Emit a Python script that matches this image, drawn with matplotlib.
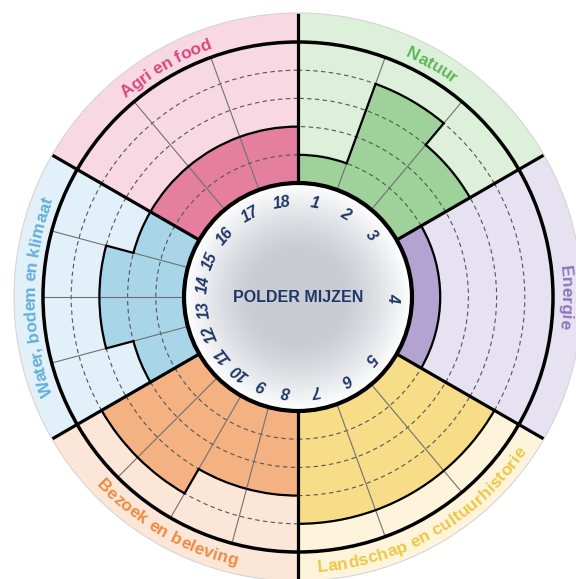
import numpy as np
import matplotlib
matplotlib.use('Agg')
import matplotlib.pyplot as plt
from matplotlib.patches import Wedge, Circle, Arc
from matplotlib.font_manager import FontProperties

# Sectors, clockwise starting at 12 o'clock
sector_names = ['Natuur', 'Energie', 'Landschap en cultuurhistorie',
                'Bezoek en beleving', 'Water, bodem en klimaat', 'Agri en food']
sector_counts = [3, 1, 3, 4, 4, 3]
# score per indicator (0-5), indicators 1..18
scores = [1, 4, 3, 1, 4, 4, 4, 3, 3, 4, 4, 2, 3, 3, 2, 2, 2, 2]
indicator_labels = [str(i) for i in range(1, 19)]
center_title = 'POLDER MIJZEN'

light_colors = ['#DDF0DA', '#E6E2F1', '#FDF4DB', '#FCE6D8', '#E2F1F9', '#F8D8E3']
dark_colors = ['#9FD19B', '#B3A3D0', '#F8DD88', '#F4B283', '#A9D5E9', '#E47F9F']
text_colors = ['#5CB85B', '#8E75BA', '#EEC843', '#EF8B40', '#63AFDB', '#D8497C']
navy = '#1F3766'

W, H = 576, 579
fig = plt.figure(figsize=(W / 100, H / 100), dpi=100)
ax = fig.add_axes([0, 0, 1, 1])
ax.axis('off')

cx, cy = 298, 282
r_in, r_out, r_lab = 114, 255, 284
n_levels = 5


def rad(level):
    return r_in + (r_out - r_in) * level / n_levels


def pt(r, deg):
    a = np.radians(deg)
    return cx + r * np.cos(a), cy + r * np.sin(a)


idx = 0
start = 90.0
boundaries = []
for s, name in enumerate(sector_names):
    t_hi = start
    t_lo = start - 60
    boundaries.append(t_hi)
    # light background incl. label band
    ax.add_patch(Wedge((cx, cy), r_lab, t_lo, t_hi, width=r_lab - r_in,
                       fc=light_colors[s], ec='none', zorder=1))
    step = 60 / sector_counts[s]
    levels = []
    for k in range(sector_counts[s]):
        hi = t_hi - k * step
        lo = hi - step
        r = rad(scores[idx])
        levels.append(scores[idx])
        ax.add_patch(Wedge((cx, cy), r, lo, hi, width=r - r_in,
                           fc=dark_colors[s], ec='none', zorder=2))
        ax.add_patch(Arc((cx, cy), 2 * r, 2 * r, theta1=lo, theta2=hi,
                         color='black', lw=1.6, zorder=5))
        idx += 1
    # dashed level rings
    for lv in range(1, n_levels):
        ax.add_patch(Arc((cx, cy), 2 * rad(lv), 2 * rad(lv), theta1=t_lo, theta2=t_hi,
                         color='#555555', lw=0.8, ls=(0, (4, 3)), zorder=3))
    # thin radial lines and steps between indicators
    for k in range(1, sector_counts[s]):
        a = t_hi - k * step
        x0, y0 = pt(r_in, a)
        x1, y1 = pt(r_out, a)
        ax.plot([x0, x1], [y0, y1], color='#707070', lw=0.8, zorder=3)
        if levels[k] != levels[k - 1]:
            xa, ya = pt(rad(min(levels[k], levels[k - 1])), a)
            xb, yb = pt(rad(max(levels[k], levels[k - 1])), a)
            ax.plot([xa, xb], [ya, yb], color='black', lw=1.6, zorder=5)
    start -= 60

# thick sector boundaries and rings
for a in boundaries:
    x0, y0 = pt(r_in, a)
    x1, y1 = pt(r_lab, a)
    ax.plot([x0, x1], [y0, y1], color='black', lw=2.3, zorder=6,
            solid_capstyle='butt')
ax.add_patch(Circle((cx, cy), r_out, fc='none', ec='black', lw=2.5, zorder=6))
ax.add_patch(Circle((cx, cy), r_lab, fc='none', ec='#D5D5D5', lw=0.8, zorder=6))

# center disc with soft radial gradient
n = 400
g = np.linspace(-r_in, r_in, n)
X, Y = np.meshgrid(g, g)
D = np.sqrt(X ** 2 + Y ** 2) / r_in
gray = np.array([0.79, 0.80, 0.83])
t = np.clip((D - 0.4) / 0.6, 0, 1) ** 1.3
img = gray + (1 - gray) * t[..., None]
im = ax.imshow(img, extent=(cx - r_in, cx + r_in, cy - r_in, cy + r_in),
               origin='lower', zorder=7, interpolation='bilinear')
im.set_clip_path(Circle((cx, cy), r_in, transform=ax.transData))
ax.add_patch(Circle((cx, cy), r_in, fc='none', ec='black', lw=3, zorder=8))

ax.text(cx, cy, center_title, ha='center', va='center', fontsize=11.5,
        fontweight='bold', color=navy, family='Liberation Sans', zorder=9)

# indicator numbers
idx = 0
start = 90.0
for s in range(len(sector_names)):
    step = 60 / sector_counts[s]
    for k in range(sector_counts[s]):
        a = start - (k + 0.5) * step
        x, y = pt(95, a)
        ax.text(x, y, indicator_labels[idx], ha='center', va='center',
                rotation=a - 90, rotation_mode='anchor', fontsize=11.5,
                fontweight='bold', style='italic', color=navy,
                family='Liberation Sans', zorder=9)
        idx += 1
    start -= 60

ax.set_xlim(0, W)
ax.set_ylim(0, H)
ax.set_aspect('auto')

# curved sector labels
renderer = fig.canvas.get_renderer()
fp = FontProperties(family='Liberation Sans', weight='bold', size=12.5)
cap = 0.72 * 12.5 * 100 / 72


def curved_text(txt, center_deg, r_mid, color, clockwise=True):
    widths = [0.0]
    for i in range(1, len(txt) + 1):
        w, _, _ = renderer.get_text_width_height_descent(txt[:i] + '|', fp, ismath=False)
        widths.append(w)
    bar, _, _ = renderer.get_text_width_height_descent('|', fp, ismath=False)
    widths = [0.0] + [w - bar for w in widths[1:]]
    total = widths[-1]
    for i, ch in enumerate(txt):
        if ch == ' ':
            continue
        s_off = (widths[i] + widths[i + 1]) / 2 - total / 2
        if clockwise:
            r_base = r_mid - cap / 2
            a = center_deg - np.degrees(s_off / r_mid)
            rot = a - 90
        else:
            r_base = r_mid + cap / 2
            a = center_deg + np.degrees(s_off / r_mid)
            rot = a + 90
        x, y = pt(r_base, a)
        ax.text(x, y, ch, fontproperties=fp, color=color, ha='center',
                va='baseline', rotation=rot, rotation_mode='anchor', zorder=9)


label_centers = [60, 0, -60, -120, 180, 120]
for s, name in enumerate(sector_names):
    cw = label_centers[s] not in (-60, -120)
    curved_text(name, label_centers[s], (r_out + r_lab) / 2, text_colors[s], cw)

fig.savefig('out.png', dpi=100)
